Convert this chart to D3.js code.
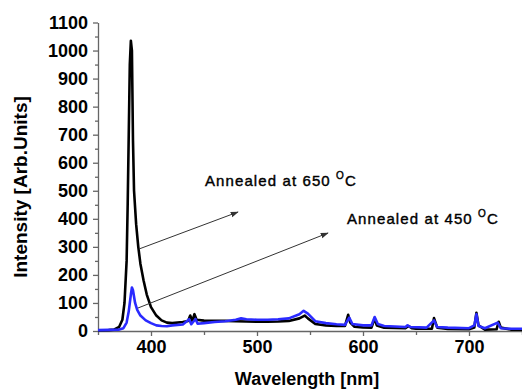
<!DOCTYPE html>
<html>
<head>
<meta charset="utf-8">
<script src="https://cdn.jsdelivr.net/npm/d3@7"></script>
<style>
  body { margin: 0; background: #fff; }
  svg { display: block; font-family: "Liberation Sans", Arial, sans-serif; }
</style>
</head>
<body>
<div id="chart"></div>
<script>
// sample annealed at 650 C (black)
const wl650 = [350, 360, 365, 370, 373, 375, 377, 378, 379, 380, 381, 382, 383, 384, 386, 388, 390, 393, 396, 400,
  405, 410, 415, 420, 430, 435, 437, 439, 441, 443, 450, 460, 470, 480, 490, 500, 510, 520, 530, 540,
  545, 548, 555, 565, 575, 583, 586, 588, 592, 600, 608, 611, 613, 620, 640, 643, 646, 650, 665, 667,
  670, 680, 700, 705, 707, 709, 715, 726, 728, 730, 740, 750]
const int650 = [2, 3, 5, 15, 40, 100, 250, 450, 700, 950, 1035, 1000, 680, 500, 380, 300, 240, 180, 130, 85,
  55, 38, 30, 28, 32, 36, 55, 36, 60, 40, 37, 36, 36, 35, 34, 33, 33, 34, 36, 45,
  55, 45, 25, 20, 18, 18, 58, 30, 15, 13, 12, 45, 20, 12, 10, 18, 10, 8, 8, 46,
  12, 7, 6, 12, 65, 20, 5, 6, 33, 12, 5, 5]

// sample annealed at 450 C (blue)
const wl450 = [350, 360, 370, 374, 377, 379, 381, 382, 383, 385, 387, 390, 395, 400, 405, 410, 415, 420, 430, 436,
  438, 442, 444, 450, 460, 470, 480, 485, 490, 500, 510, 520, 530, 540, 544, 548, 555, 565, 575, 583,
  587, 590, 600, 608, 611, 614, 620, 640, 642, 645, 660, 667, 670, 680, 700, 705, 707, 709, 715, 727,
  730, 740, 750]
const int450 = [3, 4, 5, 10, 30, 70, 130, 155, 145, 100, 75, 55, 38, 28, 20, 18, 17, 20, 23, 42,
  24, 43, 26, 28, 32, 35, 40, 45, 42, 40, 40, 42, 45, 60, 72, 62, 35, 28, 24, 22,
  48, 25, 20, 20, 50, 25, 18, 14, 20, 14, 12, 38, 14, 12, 10, 20, 60, 18, 10, 30,
  10, 8, 8]

const yTicks = d3.range(0, 1101, 50)
const xTicks = d3.range(350, 751, 50)

const width = 522
const height = 390
const margin = {top: 22.5, right: 0, bottom: 59, left: 98}

const xScale = d3.scaleLinear().domain([350, 750]).range([margin.left, width - margin.right])
const yScale = d3.scaleLinear().domain([0, 1100]).range([height - margin.bottom, margin.top])

const svg = d3.select("#chart")
  .append("svg")
  .attr("width", width)
  .attr("height", height)

svg.append("defs").append("marker")
  .attr("id", "head")
  .attr("viewBox", "0 0 10 10")
  .attr("refX", 9).attr("refY", 5)
  .attr("markerWidth", 8).attr("markerHeight", 8)
  .attr("markerUnits", "userSpaceOnUse")
  .attr("orient", "auto")
  .append("path")
  .attr("d", "M0,1.5L10,5L0,8.5Z")
  .attr("fill", "#333")

// y axis
const yAxis = svg.append("g")
  .attr("transform", "translate(" + margin.left + ",0)")
  .call(d3.axisLeft(yScale)
    .tickValues(yTicks)
    .tickFormat(d => d % 100 === 0 ? d : "")
    .tickSize(5).tickSizeOuter(0).tickPadding(5))
yAxis.selectAll(".tick line").attr("x2", d => d % 100 === 0 ? -5 : -3)

// x axis
const xAxis = svg.append("g")
  .attr("transform", "translate(0," + (height - margin.bottom) + ")")
  .call(d3.axisBottom(xScale)
    .tickValues(xTicks)
    .tickFormat(d => d % 100 === 0 ? d : "")
    .tickSize(5).tickSizeOuter(0).tickPadding(4))
xAxis.selectAll(".tick line").attr("y2", d => d % 100 === 0 ? 5 : 4)

svg.selectAll(".domain, .tick line").attr("stroke", "#666").attr("stroke-width", 1.3)
svg.selectAll(".tick text")
  .attr("font-size", "18px")
  .attr("font-weight", "bold")
  .attr("font-family", "Liberation Sans, Arial, sans-serif")
  .attr("fill", "#000")

// curves
const line = d3.line()
  .x(d => xScale(d[0]))
  .y(d => yScale(d[1]))

svg.append("path")
  .datum(d3.zip(wl650, int650))
  .attr("d", line)
  .attr("fill", "none")
  .attr("stroke", "#000")
  .attr("stroke-width", 2.6)
  .attr("stroke-linejoin", "round")

svg.append("path")
  .datum(d3.zip(wl450, int450))
  .attr("d", line)
  .attr("fill", "none")
  .attr("stroke", "#2a2aff")
  .attr("stroke-width", 2.6)
  .attr("stroke-linejoin", "round")

// axis titles
svg.append("text")
  .text("Wavelength [nm]")
  .attr("x", 307).attr("y", 385)
  .attr("text-anchor", "middle")
  .attr("font-size", "18px")
  .attr("font-weight", "bold")

svg.append("text")
  .text("Intensity [Arb.Units]")
  .attr("transform", "translate(27,187) rotate(-90)")
  .attr("text-anchor", "middle")
  .attr("font-size", "19px")
  .attr("font-weight", "bold")

// annotations
const notes = [
  {label: "Annealed at 650 ", x: 205, y: 186, from: [139, 249], to: [238, 212]},
  {label: "Annealed at 450 ", x: 347, y: 224, from: [138, 308], to: [328, 233]}
]

notes.forEach(n => {
  svg.append("line")
    .attr("x1", n.from[0]).attr("y1", n.from[1])
    .attr("x2", n.to[0]).attr("y2", n.to[1])
    .attr("stroke", "#333")
    .attr("stroke-width", 1)
    .attr("marker-end", "url(#head)")

  const t = svg.append("text")
    .attr("x", n.x).attr("y", n.y)
    .attr("font-size", "15px")
    .attr("letter-spacing", "1.1px")
    .attr("fill", "#000")
    .attr("stroke", "#000")
    .attr("stroke-width", 0.4)
  t.append("tspan").text(n.label)
  t.append("tspan").text("O").attr("font-size", "10px").attr("dy", -7)
  t.append("tspan").text("C").attr("dy", 7)
})
</script>
</body>
</html>
